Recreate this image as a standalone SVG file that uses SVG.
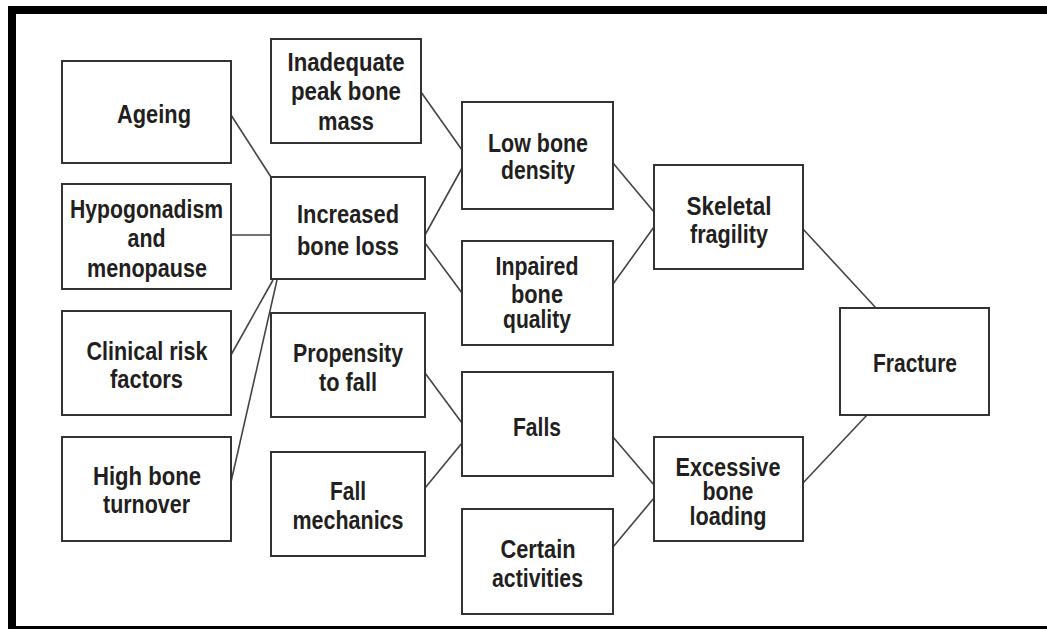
<svg xmlns="http://www.w3.org/2000/svg" width="1047" height="629" viewBox="0 0 1047 629">
<style>
.box{fill:#fff;stroke:#333;stroke-width:2}
.t{font-family:"Liberation Sans",Arial,sans-serif;font-weight:bold;font-size:25px;fill:#231f20;text-anchor:middle}
.c{stroke:#444;stroke-width:1.6;fill:none}
</style>
<rect x="0" y="0" width="1047" height="629" fill="#fff"/>
<rect x="12" y="10" width="1060" height="620" fill="none" stroke="#000" stroke-width="8"/>
<g id="connectors">
<line class="c" x1="231" y1="115" x2="271" y2="177"/>
<line class="c" x1="231" y1="235" x2="271" y2="235"/>
<line class="c" x1="231" y1="355" x2="273" y2="280"/>
<line class="c" x1="231" y1="482" x2="277" y2="280"/>
<line class="c" x1="421" y1="92" x2="462" y2="150"/>
<line class="c" x1="425" y1="235" x2="462" y2="168"/>
<line class="c" x1="425" y1="243" x2="462" y2="293"/>
<line class="c" x1="613" y1="163" x2="654" y2="212"/>
<line class="c" x1="613" y1="284" x2="654" y2="227"/>
<line class="c" x1="425" y1="373" x2="462" y2="423"/>
<line class="c" x1="425" y1="488" x2="462" y2="443"/>
<line class="c" x1="613" y1="437" x2="654" y2="485"/>
<line class="c" x1="613" y1="547" x2="654" y2="498"/>
<line class="c" x1="803" y1="229" x2="876" y2="308"/>
<line class="c" x1="867" y1="415" x2="803" y2="483"/>
</g>
<g id="ageing"><rect class="box" x="62" y="61" width="169" height="102"/><text class="t" x="154" y="123" textLength="74" lengthAdjust="spacingAndGlyphs">Ageing</text></g>
<g id="hypogonadism"><rect class="box" x="62" y="184" width="169" height="105"/><text class="t" x="146.5" y="218" textLength="153" lengthAdjust="spacingAndGlyphs">Hypogonadism</text><text class="t" x="146.5" y="247" textLength="38" lengthAdjust="spacingAndGlyphs">and</text><text class="t" x="147" y="277" textLength="120" lengthAdjust="spacingAndGlyphs">menopause</text></g>
<g id="clinical"><rect class="box" x="62" y="311" width="169" height="104"/><text class="t" x="147" y="360" textLength="121" lengthAdjust="spacingAndGlyphs">Clinical risk</text><text class="t" x="146.5" y="388" textLength="73" lengthAdjust="spacingAndGlyphs">factors</text></g>
<g id="highbone"><rect class="box" x="62" y="437" width="169" height="104"/><text class="t" x="147" y="485" textLength="108" lengthAdjust="spacingAndGlyphs">High bone</text><text class="t" x="146.5" y="513" textLength="87" lengthAdjust="spacingAndGlyphs">turnover</text></g>
<g id="inadequate"><rect class="box" x="271" y="39" width="150" height="104"/><text class="t" x="346" y="71" textLength="117" lengthAdjust="spacingAndGlyphs">Inadequate</text><text class="t" x="346" y="100" textLength="110" lengthAdjust="spacingAndGlyphs">peak bone</text><text class="t" x="346" y="130" textLength="56" lengthAdjust="spacingAndGlyphs">mass</text></g>
<g id="increased"><rect class="box" x="271" y="177" width="154" height="102"/><text class="t" x="348" y="223" textLength="102" lengthAdjust="spacingAndGlyphs">Increased</text><text class="t" x="348" y="255" textLength="102" lengthAdjust="spacingAndGlyphs">bone loss</text></g>
<g id="propensity"><rect class="box" x="271" y="313" width="154" height="104"/><text class="t" x="348" y="362" textLength="110" lengthAdjust="spacingAndGlyphs">Propensity</text><text class="t" x="348" y="391" textLength="58" lengthAdjust="spacingAndGlyphs">to fall</text></g>
<g id="fallmechanics"><rect class="box" x="271" y="452" width="154" height="104"/><text class="t" x="348" y="500" textLength="36" lengthAdjust="spacingAndGlyphs">Fall</text><text class="t" x="348" y="529" textLength="111" lengthAdjust="spacingAndGlyphs">mechanics</text></g>
<g id="lowbonedensity"><rect class="box" x="462" y="102" width="151" height="107"/><text class="t" x="538" y="152" textLength="100" lengthAdjust="spacingAndGlyphs">Low bone</text><text class="t" x="538" y="179" textLength="74" lengthAdjust="spacingAndGlyphs">density</text></g>
<g id="inpaired"><rect class="box" x="462" y="241" width="151" height="104"/><text class="t" x="537" y="275" textLength="83" lengthAdjust="spacingAndGlyphs">Inpaired</text><text class="t" x="537" y="303" textLength="52" lengthAdjust="spacingAndGlyphs">bone</text><text class="t" x="537" y="328" textLength="68" lengthAdjust="spacingAndGlyphs">quality</text></g>
<g id="falls"><rect class="box" x="462" y="372" width="151" height="104"/><text class="t" x="537" y="436" textLength="48" lengthAdjust="spacingAndGlyphs">Falls</text></g>
<g id="certain"><rect class="box" x="462" y="509" width="151" height="105"/><text class="t" x="538" y="558" textLength="75" lengthAdjust="spacingAndGlyphs">Certain</text><text class="t" x="537.5" y="587" textLength="91" lengthAdjust="spacingAndGlyphs">activities</text></g>
<g id="skeletal"><rect class="box" x="654" y="165" width="149" height="104"/><text class="t" x="729" y="215" textLength="85" lengthAdjust="spacingAndGlyphs">Skeletal</text><text class="t" x="729" y="243" textLength="78" lengthAdjust="spacingAndGlyphs">fragility</text></g>
<g id="excessive"><rect class="box" x="654" y="437" width="149" height="104"/><text class="t" x="728" y="476" textLength="105" lengthAdjust="spacingAndGlyphs">Excessive</text><text class="t" x="728" y="500" textLength="51" lengthAdjust="spacingAndGlyphs">bone</text><text class="t" x="728" y="525" textLength="77" lengthAdjust="spacingAndGlyphs">loading</text></g>
<g id="fracture"><rect class="box" x="840" y="308" width="149" height="107"/><text class="t" x="915" y="372" textLength="84" lengthAdjust="spacingAndGlyphs">Fracture</text></g>
</svg>
